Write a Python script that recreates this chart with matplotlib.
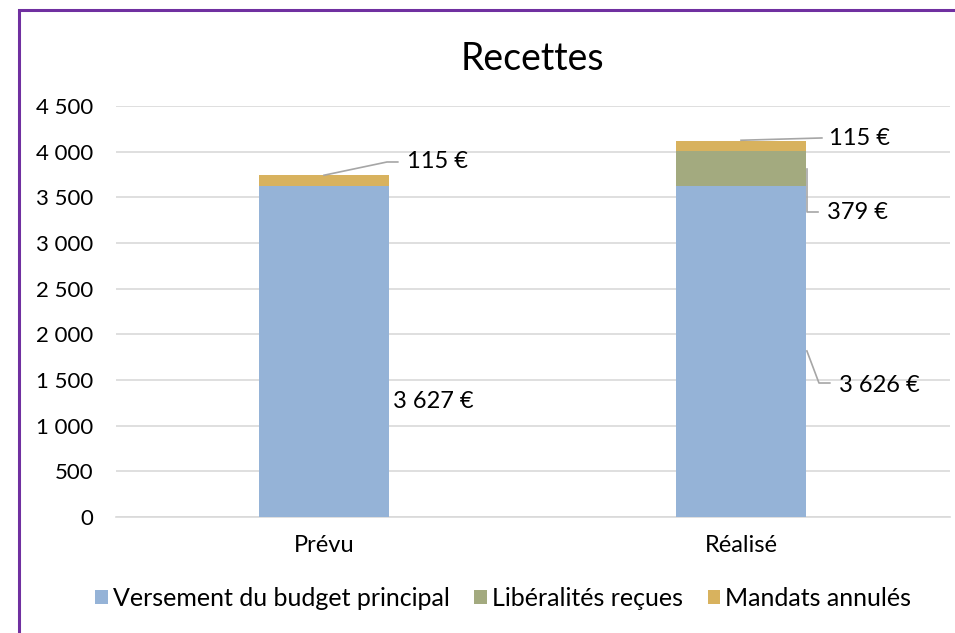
import matplotlib
matplotlib.use('Agg')
import matplotlib.pyplot as plt
from matplotlib.patches import Rectangle

plt.rcParams['font.family'] = ['Lato', 'DejaVu Sans']

categories = ['Prévu', 'Réalisé']
series_names = ['Versement du budget principal', 'Libéralités reçues', 'Mandats annulés']
versement = [3627, 3626]
liberalites = [0, 379]
mandats = [115, 115]
colors = ['#95B3D7', '#A3AA7F', '#D8B25E']

def fmt(v):
    return f'{v:,.0f}'.replace(',', ' ')

fig = plt.figure(figsize=(9.55, 6.33), dpi=100)
ax = fig.add_axes([115.5 / 955, 116 / 633, 834 / 955, 411 / 633])

x = range(len(categories))
w = 0.31
b1 = ax.bar(x, versement, w, color=colors[0], label=series_names[0], zorder=3)
b2 = ax.bar(x, liberalites, w, bottom=versement, color=colors[1], label=series_names[1], zorder=3)
bottom3 = [a + b for a, b in zip(versement, liberalites)]
b3 = ax.bar(x, mandats, w, bottom=bottom3, color=colors[2], label=series_names[2], zorder=3)

ax.set_xlim(-0.5, 1.5)
ax.set_ylim(0, 4500)
ax.set_yticks(range(0, 4501, 500))
ax.set_yticklabels([fmt(v) for v in range(0, 4501, 500)], fontsize=16)
ax.set_xticks(list(x))
ax.set_xticklabels(categories, fontsize=17)
ax.yaxis.grid(True, color='#D9D9D9', linewidth=1.2, zorder=0)
for s in ['top', 'right', 'left']:
    ax.spines[s].set_visible(False)
ax.spines['bottom'].set_color('#D9D9D9')
ax.spines['bottom'].set_linewidth(1.2)
ax.tick_params(length=0)
ax.tick_params(axis='x', pad=13)
ax.tick_params(axis='y', pad=16)

ax.set_title('Recettes', fontsize=27, pad=26)

lc = '#A6A6A6'
fs = 17
half = w / 2

# Prévu labels
ax.text(0 + half + 0.01, 1270, fmt(versement[0]) + ' €', fontsize=fs, va='center', ha='left')
top0 = bottom3[0] + mandats[0]
ax.plot([0, 0.151, 0.177], [top0, 3887, 3887], color=lc, lw=1.2, zorder=4)
ax.text(0.199, 3887, fmt(mandats[0]) + ' €', fontsize=fs, va='center', ha='left')

# Réalisé labels
top1 = bottom3[1] + mandats[1]
ax.plot([1, 1.194], [top1 + 5, 4150], color=lc, lw=1.2, zorder=4)
ax.text(1.211, 4140, fmt(mandats[1]) + ' €', fontsize=fs, va='center', ha='left')

ax.plot([1 + half + 0.003, 1 + half + 0.003, 1.185], [3810, 3340, 3340], color=lc, lw=1.2, zorder=4)
ax.text(1.206, 3329, fmt(liberalites[1]) + ' €', fontsize=fs, va='center', ha='left')

ax.plot([1 + half + 0.003, 1.187, 1.213], [1818, 1467, 1467], color=lc, lw=1.2, zorder=4)
ax.text(1.235, 1445, fmt(versement[1]) + ' €', fontsize=fs, va='center', ha='left')

fig.legend(handles=[b1, b2, b3], loc='center', bbox_to_anchor=(0.527, 35 / 633), ncol=3,
           frameon=False, fontsize=18, handlelength=0.5, handleheight=0.5,
           handletextpad=0.2, columnspacing=1.0)

# purple frame
fig.patches.append(Rectangle((18.5 / 955, -0.05), 1.1, 0.05 + (633 - 9.5) / 633,
                             transform=fig.transFigure, fill=False,
                             edgecolor='#7030A0', linewidth=2.2))

fig.savefig('out.png', dpi=100)
